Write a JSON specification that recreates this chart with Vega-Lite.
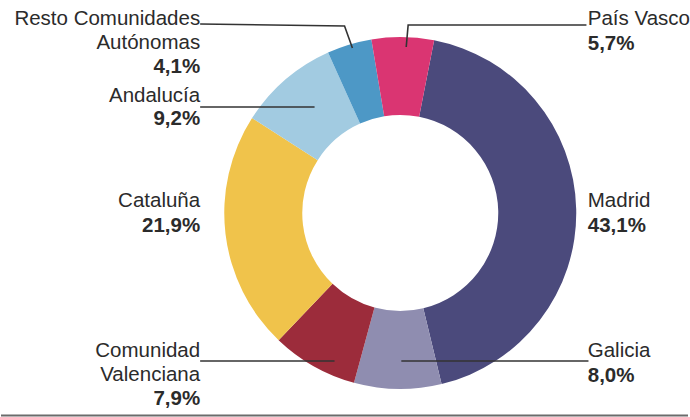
{
  "$schema": "https://vega.github.io/schema/vega-lite/v6.json",
  "width": 690,
  "height": 417,
  "autosize": {"type": "fit", "contains": "padding"},
  "padding": 0,
  "background": "white",
  "view": {"stroke": null},
  "config": {"text": {"font": "Liberation Sans", "fontSize": 20.5, "color": "#2b2b2b"}},
  "datasets": {
    "regiones": [
      {"region": "Madrid", "pct": 43.1, "orden": 1},
      {"region": "Galicia", "pct": 8.0, "orden": 2},
      {"region": "Comunidad Valenciana", "pct": 7.9, "orden": 3},
      {"region": "Cataluña", "pct": 21.9, "orden": 4},
      {"region": "Andalucía", "pct": 9.2, "orden": 5},
      {"region": "Resto Comunidades Autónomas", "pct": 4.1, "orden": 6},
      {"region": "País Vasco", "pct": 5.7, "orden": 7}
    ],
    "etiquetas": [
      {"region": "Madrid", "nombre": "Madrid", "valor": "43,1%", "lado": "der", "lx": 107.0, "ny": 3.4, "vy": -10.8},
      {"region": "Galicia", "nombre": "Galicia", "valor": "8,0%", "lado": "der", "lx": 107.0, "ny": -81.8, "vy": -96.0},
      {"region": "Comunidad Valenciana", "nombre": "Comunidad\nValenciana", "valor": "7,9%", "lado": "izq", "lx": -114.2, "ny": -81.8, "vy": -109.1},
      {"region": "Cataluña", "nombre": "Cataluña", "valor": "21,9%", "lado": "izq", "lx": -114.2, "ny": 3.4, "vy": -10.8},
      {"region": "Andalucía", "nombre": "Andalucía", "valor": "9,2%", "lado": "izq", "lx": -114.2, "ny": 63.1, "vy": 50.0},
      {"region": "Resto Comunidades Autónomas", "nombre": "Resto Comunidades\nAutónomas", "valor": "4,1%", "lado": "izq", "lx": -114.2, "ny": 106.8, "vy": 79.5},
      {"region": "País Vasco", "nombre": "País Vasco", "valor": "5,7%", "lado": "der", "lx": 107.0, "ny": 106.8, "vy": 92.6}
    ],
    "guias": [
      {"guia": "Resto Comunidades Autónomas", "paso": 1, "gx": -114.2, "gy": 107.4},
      {"guia": "Resto Comunidades Autónomas", "paso": 2, "gx": -31.8, "gy": 106.25},
      {"guia": "Resto Comunidades Autónomas", "paso": 3, "gx": -27.3, "gy": 93.75},
      {"guia": "País Vasco", "paso": 1, "gx": 3.4, "gy": 94.3},
      {"guia": "País Vasco", "paso": 2, "gx": 4.5, "gy": 106.8},
      {"guia": "País Vasco", "paso": 3, "gx": 106.25, "gy": 106.8},
      {"guia": "Andalucía", "paso": 1, "gx": -114.2, "gy": 60.2},
      {"guia": "Andalucía", "paso": 2, "gx": -48.9, "gy": 60.2},
      {"guia": "Comunidad Valenciana", "paso": 1, "gx": -114.2, "gy": -84.1},
      {"guia": "Comunidad Valenciana", "paso": 2, "gx": -37.5, "gy": -84.1},
      {"guia": "Galicia", "paso": 1, "gx": 0.6, "gy": -84.1},
      {"guia": "Galicia", "paso": 2, "gx": 107.4, "gy": -84.1}
    ]
  },
  "layer": [
    {
      "data": {"name": "regiones"},
      "mark": {"type": "arc", "outerRadius": 176, "innerRadius": 98},
      "encoding": {
        "x": {"datum": 0, "type": "quantitative", "scale": {"domain": [-227.84, 164.2], "nice": false, "zero": false}, "axis": null},
        "y": {"datum": 0, "type": "quantitative", "scale": {"domain": [-115.91, 121.02], "nice": false, "zero": false}, "axis": null},
        "theta": {"field": "pct", "type": "quantitative", "stack": true, "scale": {"range": [0.1937, 6.4769]}},
        "order": {"field": "orden", "type": "quantitative", "sort": "ascending"},
        "color": {
          "field": "region",
          "type": "nominal",
          "scale": {
            "domain": ["Madrid", "Galicia", "Comunidad Valenciana", "Cataluña", "Andalucía", "Resto Comunidades Autónomas", "País Vasco"],
            "range": ["#4b4a7c", "#8f8db0", "#9c2c3b", "#f0c34b", "#a2cbe1", "#4d98c6", "#da3572"]
          },
          "legend": null
        }
      }
    },
    {
      "data": {"name": "guias"},
      "mark": {"type": "line", "color": "#333333", "strokeWidth": 1.6},
      "encoding": {
        "x": {"field": "gx", "type": "quantitative"},
        "y": {"field": "gy", "type": "quantitative"},
        "detail": {"field": "guia", "type": "nominal"},
        "order": {"field": "paso", "type": "quantitative"}
      }
    },
    {
      "data": {"name": "etiquetas"},
      "transform": [{"filter": "datum.lado == 'izq'"}],
      "mark": {"type": "text", "align": "right", "baseline": "alphabetic", "lineBreak": "\n", "lineHeight": 24},
      "encoding": {
        "x": {"field": "lx", "type": "quantitative"},
        "y": {"field": "ny", "type": "quantitative"},
        "text": {"field": "nombre"}
      }
    },
    {
      "data": {"name": "etiquetas"},
      "transform": [{"filter": "datum.lado == 'izq'"}],
      "mark": {"type": "text", "align": "right", "baseline": "alphabetic", "fontWeight": "bold"},
      "encoding": {
        "x": {"field": "lx", "type": "quantitative"},
        "y": {"field": "vy", "type": "quantitative"},
        "text": {"field": "valor"}
      }
    },
    {
      "data": {"name": "etiquetas"},
      "transform": [{"filter": "datum.lado == 'der'"}],
      "mark": {"type": "text", "align": "left", "baseline": "alphabetic", "lineBreak": "\n", "lineHeight": 24},
      "encoding": {
        "x": {"field": "lx", "type": "quantitative"},
        "y": {"field": "ny", "type": "quantitative"},
        "text": {"field": "nombre"}
      }
    },
    {
      "data": {"name": "etiquetas"},
      "transform": [{"filter": "datum.lado == 'der'"}],
      "mark": {"type": "text", "align": "left", "baseline": "alphabetic", "fontWeight": "bold"},
      "encoding": {
        "x": {"field": "lx", "type": "quantitative"},
        "y": {"field": "vy", "type": "quantitative"},
        "text": {"field": "valor"}
      }
    },
    {
      "data": {"values": [{}]},
      "mark": {"type": "rule", "color": "#6b6b6b", "strokeWidth": 2},
      "encoding": {
        "y": {"datum": -115.06, "type": "quantitative"}
      }
    }
  ]
}
